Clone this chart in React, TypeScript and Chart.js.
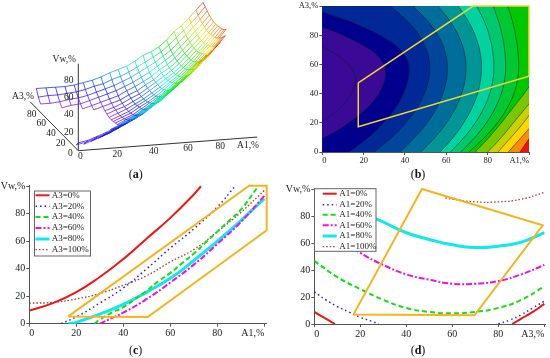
import React, { useEffect, useRef } from "react";
import { Chart, registerables } from "chart.js";

Chart.register(...registerables);

const FONT = "'Liberation Serif', serif";
const n = null;

// ---------- panel (a): surface table, rows A1=0..100, columns A3=0..100 (step 5)
const meshStep = [0, 5, 10, 15, 20, 25, 30, 35, 40, 45, 50, 55, 60, 65, 70, 75, 80, 85, 90, 95, 100];
const surfaceVw: (number | null)[][] = [
  [9, 4, n, n, n, n, n, n, n, n, n, n, n, n, n, n, n, n, 3, 8, 15],
  [11, 6, 1, n, n, n, n, n, n, n, n, n, n, n, n, n, n, n, 3, 9, 15],
  [15, 10, 5, 1, n, n, n, n, n, n, n, n, n, n, n, n, n, 0, 4, 9, 15],
  [19, 14, 9, 5, 1, n, n, n, n, n, n, n, n, n, n, n, n, 2, 6, 10, 15],
  [24, 19, 14, 9, 5, 2, n, n, n, n, n, n, n, n, n, n, 0, 3, 7, 11, 16],
  [30, 24, 19, 14, 10, 7, 4, 1, n, n, n, n, n, n, n, 1, 3, 6, 9, 13, 18],
  [35, 29, 24, 19, 15, 11, 8, 5, 3, 2, 1, 0, 0, 1, 2, 4, 6, 9, 12, 16, 20],
  [41, 35, 29, 24, 20, 16, 13, 10, 8, 6, 5, 4, 4, 5, 5, 7, 9, 12, 15, 18, 23],
  [47, 41, 35, 30, 25, 21, 18, 15, 12, 10, 9, 8, 8, 8, 9, 10, 12, 15, 18, 22, 27],
  [55, 48, 42, 37, 32, 28, 24, 21, 18, 16, 15, 14, 13, 13, 14, 15, 17, 19, 22, 25, 30],
  [62, 55, 49, 43, 38, 34, 30, 27, 24, 22, 20, 19, 18, 18, 18, 19, 21, 23, 26, 29, 33],
  [70, 63, 57, 51, 46, 41, 37, 34, 31, 28, 26, 25, 24, 24, 24, 25, 26, 28, 31, 34, 38],
  [78, 71, 65, 59, 53, 48, 44, 41, 37, 35, 33, 31, 30, 30, 30, 30, 31, 33, 36, 39, 44],
  [86, 79, 72, 66, 61, 56, 52, 48, 44, 42, 40, 38, 37, 36, 36, 37, 38, 39, 41, 44, 47],
  [93, 86, 80, 74, 68, 63, 58, 55, 51, 48, 46, 44, 43, 42, 42, 42, 43, 45, 47, 49, 52],
  [n, 95, 88, 82, 76, 71, 66, 62, 59, 56, 53, 51, 50, 49, 49, 49, 50, 51, 53, 56, 59],
  [n, n, 96, 90, 84, 79, 74, 70, 67, 64, 61, 59, 58, 57, 57, 57, 58, 59, 61, 64, 68],
  [n, n, n, 99, 93, 88, 83, 79, 75, 72, 70, 68, 66, 65, 65, 65, 66, 67, 69, 71, 74],
  [n, n, n, n, n, 96, 91, 87, 83, 80, 78, 76, 74, 73, 73, 73, 74, 75, 77, 79, 82],
  [n, n, n, n, n, n, 100, 96, 92, 89, 86, 84, 83, 82, 81, 81, 82, 83, 85, 87, 90],
  [n, n, n, n, n, n, n, n, n, 98, 95, 93, 92, 91, 90, 90, 91, 92, 94, 96, 98],
];
const a1Ticks3d = [0, 20, 40, 60, 80];
const a3Ticks3d = [0, 20, 40, 60, 80];
const vwTicks3d = [20, 40, 60, 80];

// ---------- panel (b): contour lines
type P = [number, number];
const contour0: P[] = [[0, 72], [7.5, 66], [13.9, 58], [16, 50], [14.8, 42], [11, 34], [5, 26], [0, 21]];
const contour1: P[] = [[0, 85.6], [10, 80], [23.2, 70], [29, 62], [30.6, 55], [29.7, 47], [25.9, 37], [19.3, 27], [9.7, 17], [0, 9]];
const contour2: P[] = [[0, 96], [8, 92], [15.9, 88], [32.6, 76], [40, 66], [42, 58], [41.5, 50], [39.2, 40], [35.3, 30], [29.6, 20], [22.3, 10], [13, 0]];
const contour3: P[] = [[33, 100], [42.3, 88], [48.5, 76], [51.3, 66], [52, 58], [51.5, 50], [49.4, 40], [45.7, 30], [40.4, 20], [33.6, 10], [25, 0]];
const contour4: P[] = [[44, 100], [52, 88], [57.5, 76], [59.9, 66], [60.5, 58], [60.1, 50], [58.3, 40], [55.2, 30], [50.7, 20], [44.8, 10], [37.6, 0]];
const contour5: P[] = [[56, 100], [62.6, 88], [67, 76], [69, 66], [69.5, 58], [69.1, 50], [67.4, 40], [64.4, 30], [60.1, 20], [54.5, 10], [47.6, 0]];
const contour6: P[] = [[65.8, 100], [71.3, 88], [74.9, 76], [76.6, 66], [77, 58], [76.6, 50], [75.1, 40], [72.3, 30], [68.4, 20], [63.3, 10], [57, 0]];
const contour7: P[] = [[74.7, 100], [78.8, 88], [81.5, 76], [82.7, 66], [83, 58], [82.6, 50], [81, 40], [78.1, 30], [74, 20], [68.6, 10], [62, 0]];
const contour8: P[] = [[82.7, 100], [85.6, 88], [87.6, 76], [88.5, 66], [88.7, 58], [88.3, 50], [86.6, 40], [83.6, 30], [79.4, 20], [73.8, 10], [67, 0]];
const contour9: P[] = [[89.7, 100], [92.3, 88], [94, 76], [94.8, 66], [95, 58], [94.5, 50], [92.7, 40], [89.4, 30], [84.7, 20], [78.5, 10], [71, 0]];
const contour10: P[] = [[100, 44.6], [96, 37], [91, 28], [86, 19], [80, 9], [74, 0]];
const contour11: P[] = [[100, 33], [93, 21], [86, 9], [80, 0]];
const contour12: P[] = [[100, 25], [95, 16], [90, 8], [85, 0]];
const contour13: P[] = [[100, 16], [95, 8], [90, 0]];
const contour14: P[] = [[100, 9], [97.5, 4], [95.6, 0]];
const contours = [contour0, contour1, contour2, contour3, contour4, contour5, contour6, contour7, contour8, contour9, contour10, contour11, contour12, contour13, contour14];
const bandColors = [
  "rgb(58,10,150)", "rgb(58,10,150)", "rgb(0,0,140)", "rgb(0,40,150)", "rgb(0,70,155)",
  "rgb(0,110,155)", "rgb(0,150,150)", "rgb(0,210,160)", "rgb(0,200,110)", "rgb(0,200,50)",
  "rgb(0,200,0)", "rgb(120,200,0)", "rgb(200,210,0)", "rgb(255,215,0)", "rgb(255,140,0)",
];
const bandOuter = "rgb(240,20,0)";
const regionB: P[] = [[17.4, 47.4], [73, 100], [100, 100], [100, 52], [17.4, 17.3], [17.4, 47.4]];

// ---------- panel (c)
const cA3_0: P[] = [[0, 9.5], [10, 15], [20, 23], [30, 34], [40, 47], [50, 62], [60, 77], [70, 94], [73, 100]];
const cA3_20: P[] = [[13.5, 0], [20, 5], [30, 15], [40, 26], [50, 40], [60, 55], [70, 69], [80, 85], [87.5, 100]];
const cA3_40: P[] = [[27.7, 0], [30, 3], [35, 8], [40, 12], [45, 18], [50, 24], [55, 31], [60, 37], [65, 44], [70, 51], [75, 59], [80, 67], [85, 75], [90, 83], [97, 99]];
const cA3_60: P[] = [[30, 0], [35, 4], [40, 8], [50, 18], [60, 30], [70, 43], [80, 58], [90, 74], [100, 93]];
const cA3_80: P[] = [[16.5, 0], [20, 1], [30, 7], [40, 14], [50, 23], [60, 33], [70, 46], [80, 60], [90, 75], [100, 91]];
const cA3_100: P[] = [[0, 15], [10, 15.5], [20, 18], [30, 22], [40, 28], [50, 35], [60, 45], [70, 54], [80, 67], [90, 81], [100, 97]];
const regionC: P[] = [[16.6, 5.3], [50.4, 4.8], [101, 68], [101, 100.4], [93.5, 100.4], [16.6, 5.3]];

// ---------- panel (d)
const dA1_0: [number, number | null][] = [[0, 9], [5, 4], [9, 0], [50, null], [86, 0], [90, 4], [95, 9], [100, 15]];
const dA1_20: [number, number | null][] = [[0, 24], [5, 18], [10, 13], [15, 9], [20, 5], [25, 2], [28, 0], [50, null], [80, 0], [85, 3], [90, 7], [95, 12], [100, 17]];
const dA1_40: P[] = [[0, 47], [10, 35], [20, 26], [30, 18], [40, 12], [50, 9], [60, 8], [70, 9], [80, 12], [90, 18], [100, 28]];
const dA1_60: P[] = [[0, 77], [10, 64], [20, 53], [30, 44], [40, 37], [50, 33], [60, 30], [70, 30], [80, 32], [90, 37], [100, 44]];
const dA1_80: P[] = [[0, 110], [10, 96], [20, 84], [30, 76], [40, 68], [50, 63], [60, 59], [70, 57], [80, 58], [90, 61], [100, 68]];
const dA1_100: P[] = [[57, 94], [60, 93], [70, 91], [80, 91], [90, 93], [100, 98]];
const regionD: P[] = [[17, 7], [69.6, 6.5], [99.3, 73.5], [46.8, 100.6], [17, 7]];

const curveStyles = [
  { color: "#f01515", width: 2, dash: [] as number[] },
  { color: "#2020e0", width: 1.5, dash: [1.5, 3] },
  { color: "#10e010", width: 2, dash: [5, 3] },
  { color: "#f010e0", width: 2, dash: [6, 2, 2, 2] },
  { color: "#10e8f0", width: 3, dash: [] as number[] },
  { color: "#a04030", width: 1.3, dash: [1.5, 2] },
];
const ORANGE = "#f5b41e";

const xy = (pts: [number, number | null][]) => pts.map(([x, y]) => ({ x, y }));

function legendBox(box: { x: number; y: number; w: number; h: number; sx: number; tx: number; rows: number[] }, labels: string[]) {
  return {
    id: "boxLegend",
    afterDatasetsDraw(chart: any) {
      const c = chart.ctx;
      c.save();
      c.fillStyle = "#fff";
      c.strokeStyle = "#666";
      c.lineWidth = 1;
      c.fillRect(box.x, box.y, box.w, box.h);
      c.strokeRect(box.x, box.y, box.w, box.h);
      c.font = `9px ${FONT}`;
      c.textBaseline = "middle";
      labels.forEach((label, i) => {
        const s = curveStyles[i];
        c.strokeStyle = s.color;
        c.lineWidth = s.width;
        c.setLineDash(s.dash);
        c.beginPath();
        c.moveTo(box.sx, box.rows[i]);
        c.lineTo(box.sx + 14, box.rows[i]);
        c.stroke();
        c.setLineDash([]);
        c.fillStyle = "#222";
        c.fillText(label, box.tx, box.rows[i]);
      });
      c.restore();
    },
  };
}

function axes(o: { xMax: number; yMax: number; left: number; bottom: number; font: number; xEnd: string; yEnd: string }) {
  const tick = (end: string) => (v: any) => (v === 100 ? end : v);
  return {
    x: {
      type: "linear", min: 0, max: o.xMax,
      border: { color: "#555", width: 1 },
      grid: { drawOnChartArea: false, tickLength: 3, color: "#555" },
      ticks: { stepSize: 20, includeBounds: false, maxRotation: 0, autoSkip: false, align: "inner", padding: 1, color: "#222", font: { family: FONT, size: o.font }, callback: tick(o.xEnd) },
      afterFit: (s: any) => { s.height = o.bottom; },
    },
    y: {
      type: "linear", min: 0, max: o.yMax,
      border: { color: "#555", width: 1 },
      grid: { drawOnChartArea: false, tickLength: 3, color: "#555" },
      ticks: { stepSize: 20, includeBounds: false, autoSkip: false, padding: 1, color: "#222", font: { family: FONT, size: o.font }, callback: tick(o.yEnd) },
      afterFit: (s: any) => { s.width = o.left; },
    },
  };
}

function baseOptions(scales: any, padding: any) {
  return {
    responsive: false,
    animation: false,
    events: [],
    layout: { padding, autoPadding: false },
    plugins: { legend: { display: false }, tooltip: { enabled: false }, title: { display: false } },
    scales,
  };
}

function curveDatasets(series: any[], labels: string[], tension = 0.5) {
  return series.map((pts, i) => ({
    label: labels[i],
    data: xy(pts),
    showLine: true,
    pointRadius: 0,
    tension,
    borderColor: curveStyles[i].color,
    borderWidth: curveStyles[i].width,
    borderDash: curveStyles[i].dash,
    order: 5 + i,
  }));
}

// projection of the 3D box onto panel (a): axes, then the surface
const proj = (a1: number, a3: number, vw: number) => ({
  x: 78.3 + 2.0 * a1 - 0.00283 * a1 * a1 - 0.483 * a3,
  y: 150.7 - 0.13 * a1 - 0.49 * a3 - 0.87 * vw,
});
const projSurface = (a1: number, a3: number, vw: number) => ({
  x: 78.3 + 1.95 * a1 - 0.00283 * a1 * a1 - 0.42 * a3,
  y: 150.7 - 0.13 * a1 - 0.49 * a3 - 0.88 * vw,
});
const hueOf = (vw: number) => `hsla(${Math.max(0, 275 - 2.75 * vw)},95%,47%,0.9)`;

function meshLine(vals: (number | null)[], at: (k: number) => [number, number]) {
  const pts = vals.map((v, k) => {
    const [a1, a3] = at(k);
    return v === null ? { x: NaN, y: NaN, vw: NaN } : { ...projSurface(a1, a3, v), vw: v };
  });
  return {
    data: pts,
    showLine: true,
    pointRadius: 0,
    borderWidth: 0.8,
    borderColor: "#888",
    segment: {
      borderColor: (ctx: any) => {
        const a = pts[ctx.p0DataIndex]?.vw, b = pts[ctx.p1DataIndex]?.vw;
        return hueOf(((a ?? 0) + (b ?? 0)) / 2);
      },
    },
  };
}

function buildA(canvas: HTMLCanvasElement) {
  const sets: any[] = [];
  surfaceVw.forEach((row, i) => sets.push(meshLine(row, (k) => [meshStep[i], meshStep[k]])));
  meshStep.forEach((a3, j) => sets.push(meshLine(surfaceVw.map((r) => r[j]), (k) => [meshStep[k], a3])));
  const axisLine = (pts: { x: number; y: number }[]) => ({ data: pts, showLine: true, pointRadius: 0, borderColor: "#333", borderWidth: 1 });
  sets.push(axisLine([proj(0, 0, 0), proj(105, 0, 0)]));
  sets.push(axisLine([proj(0, 0, 0), proj(0, 100, 0)]));
  sets.push(axisLine([proj(0, 0, 0), proj(0, 0, 100)]));
  const labels = {
    id: "labels3d",
    afterDatasetsDraw(chart: any) {
      const c = chart.ctx, sx = chart.scales.x, sy = chart.scales.y;
      const put = (t: string, p: { x: number; y: number }, dx: number, dy: number) => c.fillText(t, sx.getPixelForValue(p.x + dx), sy.getPixelForValue(p.y + dy));
      c.save();
      c.font = `9.5px ${FONT}`;
      c.fillStyle = "#222";
      c.textAlign = "center";
      c.textBaseline = "middle";
      a1Ticks3d.forEach((t) => put(String(t), proj(t, 0, 0), t === 0 ? 2 : 0, 6));
      a3Ticks3d.forEach((t) => put(String(t), proj(0, t, 0), -8, 2.5));
      vwTicks3d.forEach((t) => put(String(t), proj(0, 0, t), -9.5, -1));
      put("A1,%", proj(100, 0, 0), -2, 8);
      put("A3,%", proj(0, 100, 0), -7, -5);
      put("Vw,%", proj(0, 0, 100), -14, -4);
      c.restore();
    },
  };
  return new Chart(canvas, {
    type: "scatter",
    data: { datasets: sets },
    options: baseOptions({ x: { type: "linear", min: 0, max: 275, display: false }, y: { type: "linear", min: 0, max: 178, reverse: true, display: false } }, 0),
    plugins: [labels],
  } as any);
}

function buildB(canvas: HTMLCanvasElement) {
  const W = -40, E = 140, S = -40, T = 140;
  // continue each contour straight past the plot edge, then close far outside the clipped area
  const closed = (c: P[]) => {
    const k = c.length - 1;
    const headExt: P = [c[0][0] + (c[0][0] - c[1][0]) * 2, c[0][1] + (c[0][1] - c[1][1]) * 2];
    const tailExt: P = [c[k][0] + (c[k][0] - c[k - 1][0]) * 2, c[k][1] + (c[k][1] - c[k - 1][1]) * 2];
    const head: P[] = c[0][0] === 0 ? [headExt] : c[0][0] === 100 ? [[W, T], [E, T], headExt] : [[W, T], headExt];
    const tail: P[] = c[k][1] === 0 ? [tailExt, [W, S]] : [tailExt];
    return [...head, ...c, ...tail];
  };
  const sets: any[] = [];
  sets.push({ data: xy(regionB), showLine: true, pointRadius: 0, borderColor: "#f2d531", borderWidth: 1.5, clip: false, order: 1 });
  contours.forEach((c, i) => {
    sets.push({
      data: xy(closed(c)),
      showLine: true,
      pointRadius: 0,
      tension: 0.4,
      fill: "shape",
      backgroundColor: bandColors[i],
      borderColor: "rgba(10,30,40,0.85)",
      borderWidth: 0.6,
      order: 10 + i,
    });
  });
  sets.push({ data: xy([[W, S], [E, S], [E, T], [W, T]]), showLine: true, pointRadius: 0, fill: "shape", backgroundColor: bandOuter, borderWidth: 0, order: 40 });
  const s = axes({ xMax: 100, yMax: 100, left: 47.3, bottom: 28, font: 8.5, xEnd: "A1,%", yEnd: "A3,%" });
  return new Chart(canvas, { type: "scatter", data: { datasets: sets }, options: baseOptions(s, { left: 0, top: 5.7, right: 21, bottom: 0 }) } as any);
}

function buildC(canvas: HTMLCanvasElement) {
  const labels = ["A3=0%", "A3=20%", "A3=40%", "A3=60%", "A3=80%", "A3=100%"];
  const sets: any[] = [
    { data: xy(regionC), showLine: true, pointRadius: 0, borderColor: ORANGE, borderWidth: 2, clip: false, order: 1 },
    ...curveDatasets([cA3_0, cA3_20, cA3_40, cA3_60, cA3_80, cA3_100], labels),
  ];
  const s = axes({ xMax: 101, yMax: 100.7, left: 29.3, bottom: 34.3, font: 10, xEnd: "A1,%", yEnd: "Vw,%" });
  const box = { x: 34.5, y: 13, w: 56, h: 65, sx: 35.5, tx: 51.7, rows: [17.3, 28.3, 39, 50, 61, 71.7] };
  return new Chart(canvas, { type: "scatter", data: { datasets: sets }, options: baseOptions(s, { left: 0, top: 7.3, right: 8.3, bottom: 0 }), plugins: [legendBox(box, labels)] } as any);
}

function buildD(canvas: HTMLCanvasElement) {
  const labels = ["A1=0%", "A1=20%", "A1=40%", "A1=60%", "A1=80%", "A1=100%"];
  const sets: any[] = [
    { data: xy(regionD), showLine: true, pointRadius: 0, borderColor: ORANGE, borderWidth: 2, clip: false, order: 1 },
    ...curveDatasets([dA1_0, dA1_20, dA1_40, dA1_60, dA1_80, dA1_100], labels),
  ];
  const s = axes({ xMax: 100.5, yMax: 100.8, left: 39.3, bottom: 34, font: 10, xEnd: "A3,%", yEnd: "Vw,%" });
  const box = { x: 39.5, y: 10.7, w: 61.5, h: 62.6, sx: 47.7, tx: 64.3, rows: [15.7, 26.7, 36.7, 47.3, 58, 68.7] };
  return new Chart(canvas, { type: "scatter", data: { datasets: sets }, options: baseOptions(s, { left: 0, top: 10.7, right: 4.5, bottom: 0 }), plugins: [legendBox(box, labels)] } as any);
}

const Caption = ({ x, y, letter }: { x: number; y: number; letter: string }) => (
  <div style={{ position: "absolute", left: x - 20, top: y - 8, width: 40, textAlign: "center", font: `12px/16px ${FONT}`, color: "#111" }}>
    (<b>{letter}</b>)
  </div>
);

export default function App() {
  const a = useRef<HTMLCanvasElement>(null);
  const b = useRef<HTMLCanvasElement>(null);
  const c = useRef<HTMLCanvasElement>(null);
  const d = useRef<HTMLCanvasElement>(null);
  useEffect(() => {
    const charts = [buildA(a.current!), buildB(b.current!), buildC(c.current!), buildD(d.current!)];
    return () => charts.forEach((ch) => ch.destroy());
  }, []);
  const cv = (left: number, top: number, h: number): React.CSSProperties => ({ position: "absolute", left, top, width: 275, height: h, display: "block" });
  return (
    <div style={{ position: "fixed", left: 0, top: 0, width: 550, height: 358, background: "#fff", overflow: "hidden" }}>
      <canvas ref={a} width={275} height={178} style={cv(0, 0, 178)} />
      <canvas ref={b} width={275} height={180} style={cv(275, 0, 180)} />
      <canvas ref={c} width={275} height={180} style={cv(0, 178, 180)} />
      <canvas ref={d} width={275} height={180} style={cv(275, 178, 180)} />
      <Caption x={135.7} y={174} letter="a" />
      <Caption x={418} y={173.5} letter="b" />
      <Caption x={135.7} y={350} letter="c" />
      <Caption x={418} y={350} letter="d" />
    </div>
  );
}
